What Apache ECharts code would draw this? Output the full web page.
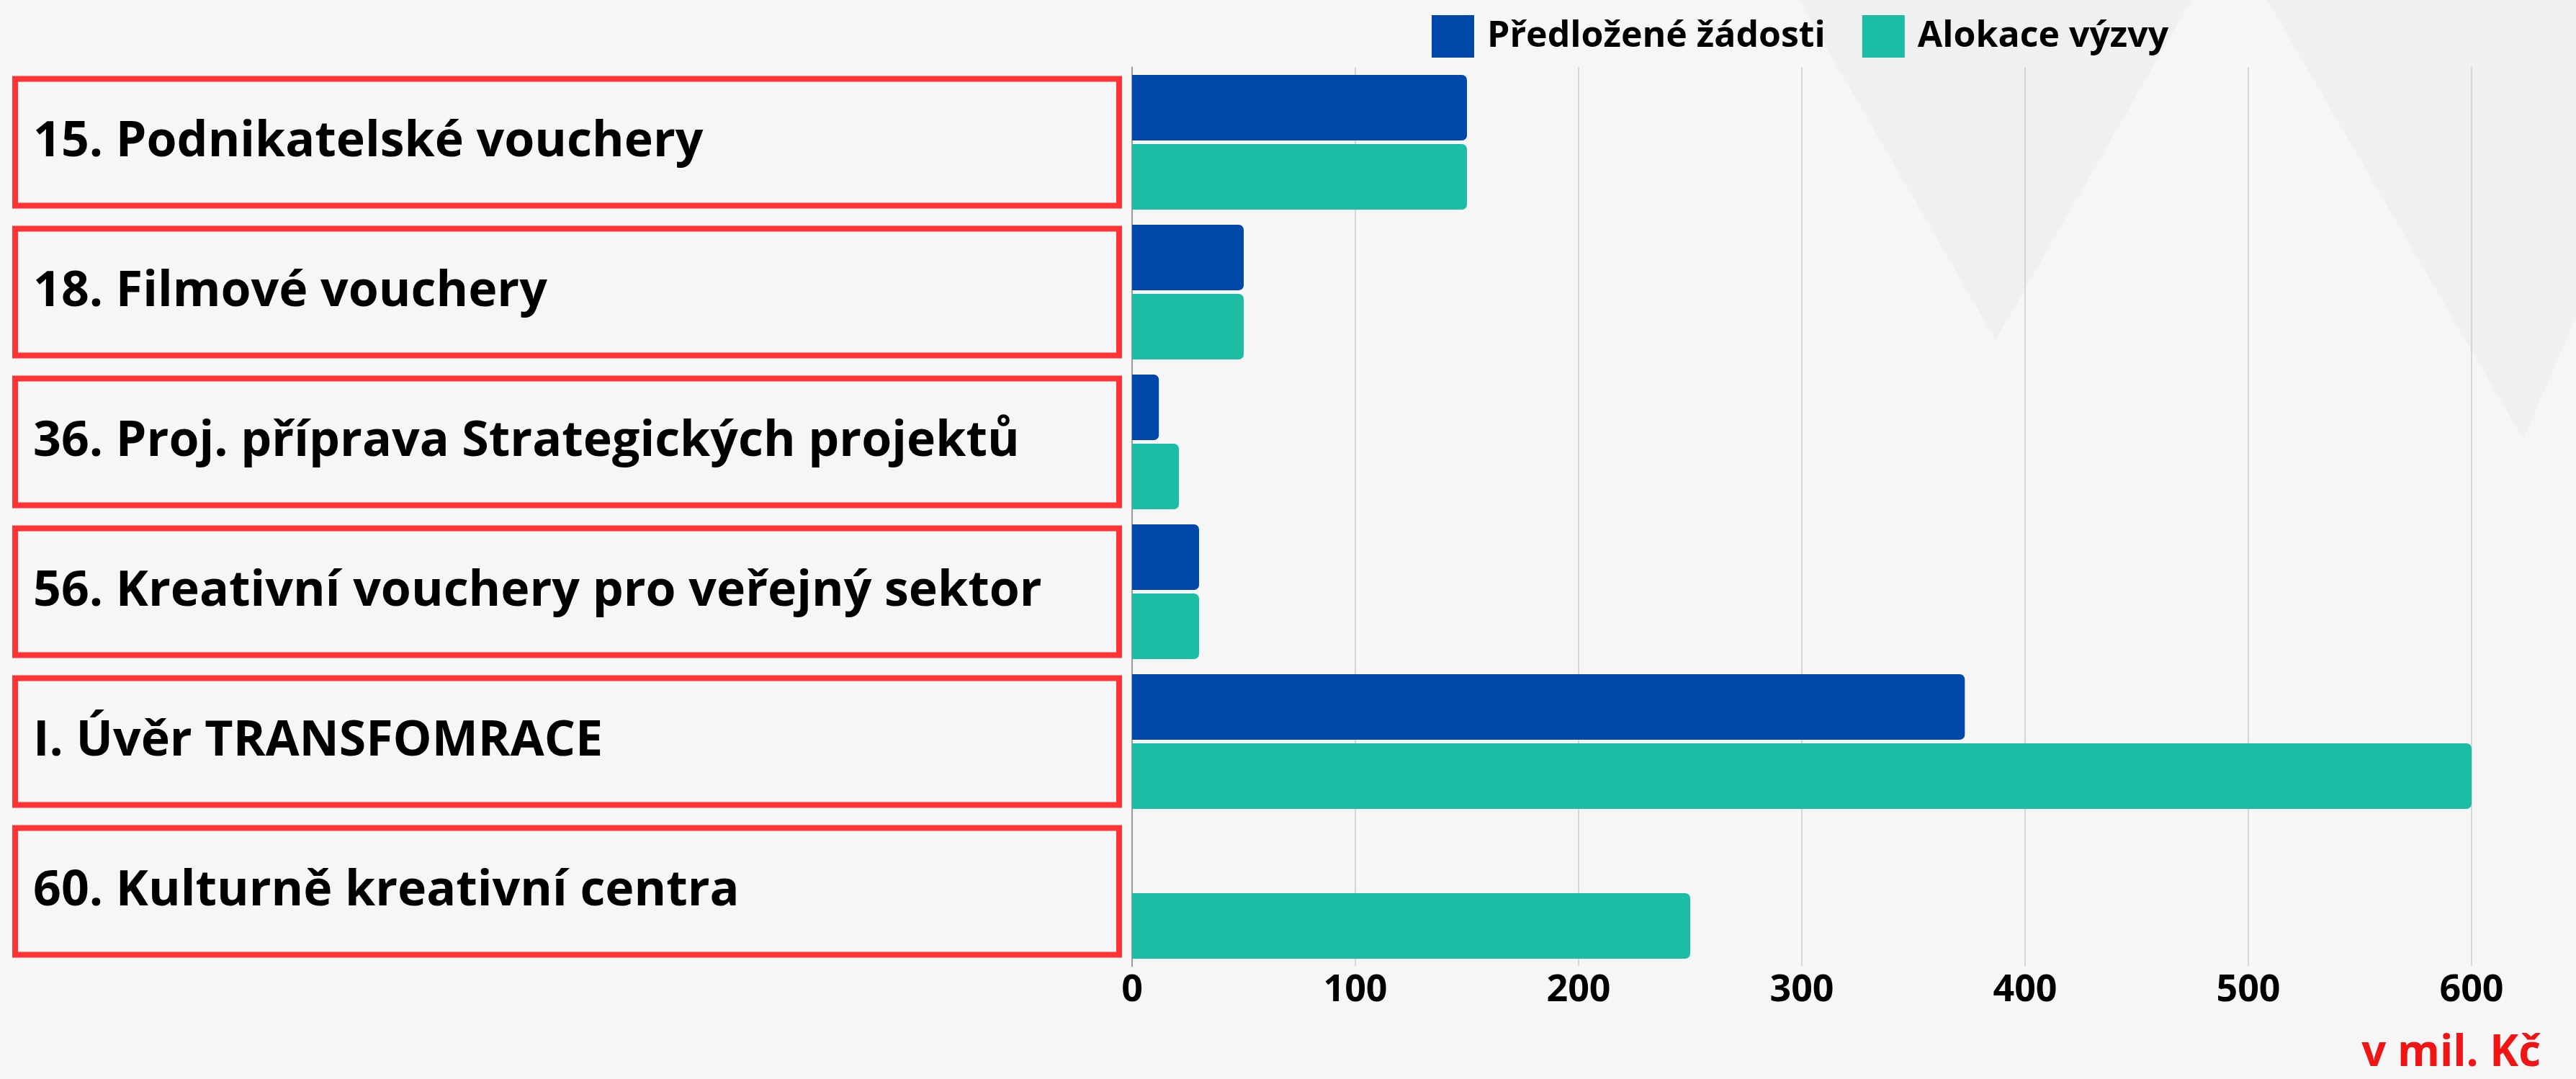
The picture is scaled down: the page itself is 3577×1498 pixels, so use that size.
<!DOCTYPE html>
<html>
<head>
<meta charset="utf-8">
<script src="https://cdn.jsdelivr.net/npm/echarts@6/dist/echarts.min.js"></script>
<style>
  html, body { margin: 0; padding: 0; background: #f6f6f6; }
  #chart { width: 3577px; height: 1498px; }
</style>
</head>
<body>
<div id="chart"></div>
<script>
// kategorie (výzvy), shora dolů
const categories = [
  '15. Podnikatelské vouchery',
  '18. Filmové vouchery',
  '36. Proj. příprava Strategických projektů',
  '56. Kreativní vouchery pro veřejný sektor',
  'I. Úvěr TRANSFOMRACE',
  '60. Kulturně kreativní centra'
]
const seriesNames = ['Předložené žádosti', 'Alokace výzvy']
// hodnoty v mil. Kč
const predlozene = [150, 50, 12, 30, 373, null]
const alokace = [150, 50, 21, 30, 600, 250]
const xTicks = [0, 100, 200, 300, 400, 500, 600]

const FONT = '"Open Sans", "Noto Sans", sans-serif'

let chart = echarts.init(document.getElementById('chart'))
chart.setOption({
  backgroundColor: 'transparent',
  textStyle: { fontFamily: FONT },
  // jemné pozadí (vodoznak)
  graphic: [
    { type: 'polygon', z: -1, silent: true, shape: { points: [[2498, 0], [3043, 0], [2771, 472]] }, style: { fill: '#f0f0f0' } },
    { type: 'polygon', z: -1, silent: true, shape: { points: [[3148, 0], [3577, 0], [3577, 440], [3504, 610]] }, style: { fill: '#f0f0f0' } }
  ],
  title: {
    text: 'v mil. Kč',
    right: 44,
    top: 1428,
    textStyle: { color: '#f01414', fontSize: 60, fontWeight: 'bold', fontFamily: FONT }
  },
  legend: {
    data: seriesNames,
    left: 1983,
    top: 16,
    icon: 'rect',
    itemWidth: 59,
    itemHeight: 59,
    itemGap: 51,
    textStyle: { color: '#000', fontSize: 50, fontWeight: 'bold', fontFamily: FONT, padding: [0, 0, 0, 13] }
  },
  grid: {
    left: 1572,
    right: 145,
    top: 93.5,
    bottom: 156.5,
    containLabel: false
  },
  xAxis: {
    type: 'value',
    min: xTicks[0],
    max: xTicks[xTicks.length - 1],
    interval: 100,
    axisLine: { show: false },
    axisTick: { show: false },
    splitLine: { lineStyle: { color: '#cccccc', width: 1.5 } },
    axisLabel: { color: '#000', fontSize: 52, fontWeight: 'bold', fontFamily: FONT, margin: 8 }
  },
  yAxis: {
    type: 'category',
    data: categories,
    inverse: true,
    axisTick: { show: false },
    axisLine: { show: true, lineStyle: { color: '#999', width: 2 } },
    axisLabel: {
      interval: 0,
      align: 'left',
      verticalAlign: 'middle',
      margin: 1551,
      width: 1508,
      padding: [0, 0, 0, 25],
      lineHeight: 176,
      borderColor: '#ff3333',
      borderWidth: 8,
      color: '#000',
      fontSize: 68,
      fontWeight: 'bold',
      fontFamily: FONT
    }
  },
  series: [
    {
      name: seriesNames[0],
      type: 'bar',
      data: predlozene,
      barWidth: 91,
      barGap: '5.5%',
      itemStyle: { color: '#0048aa', borderRadius: [0, 7, 7, 0] }
    },
    {
      name: seriesNames[1],
      type: 'bar',
      data: alokace,
      barWidth: 91,
      barGap: '5.5%',
      itemStyle: { color: '#1dbda5', borderRadius: [0, 7, 7, 0] }
    }
  ]
})
</script>
</body>
</html>
